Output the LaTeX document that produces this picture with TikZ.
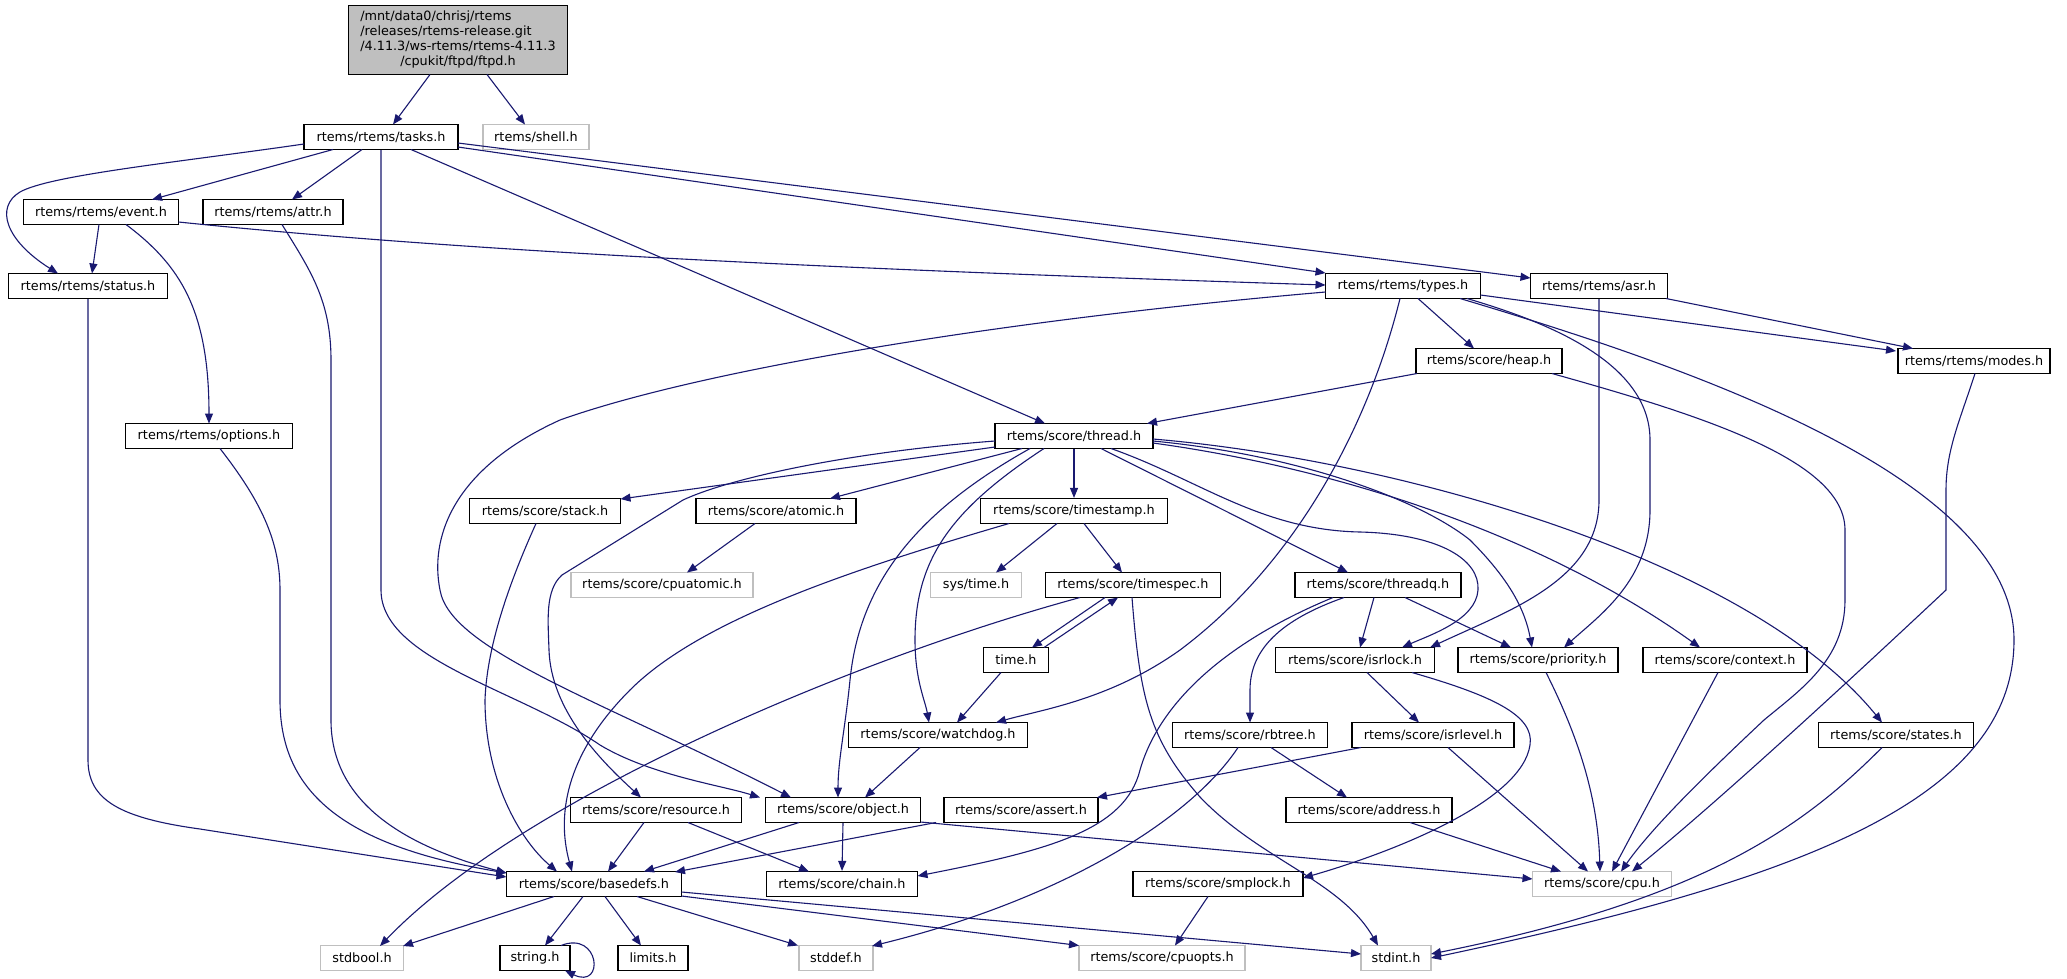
\documentclass[tikz,border=0pt]{standalone}
\usepackage{fontspec}
\setmainfont{DejaVu Sans}
\usetikzlibrary{arrows.meta}
\definecolor{edgeblue}{HTML}{191970}
\definecolor{gray75}{HTML}{BFBFBF}
\tikzset{
  nbox/.style={draw=black, line width=1.2pt, fill=white, minimum height=25pt, inner xsep=2pt, inner ysep=0pt, font=\fontsize{12.8}{14.8}\selectfont, text=black},
  gbox/.style={nbox, draw=gray75},
  rootbox/.style={nbox, fill=gray75, minimum height=69pt},
  edge/.style={draw=edgeblue, line width=1.1pt, -{Triangle[length=10pt,width=8pt]}},
}
\begin{document}
\begin{tikzpicture}[x=1pt,y=-1pt]
\fill[white] (0,0) rectangle (2067,978);
\useasboundingbox (0,0) rectangle (2067,978);
% nodes
\node[rootbox, minimum width=219pt] (ftpd) at (458,40) {\begin{tabular}{@{}l@{}}/mnt/data0/chrisj/rtems\\/releases/rtems-release.git\\/4.11.3/ws-rtems/rtems-4.11.3\\\multicolumn{1}{@{}c@{}}{/cpukit/ftpd/ftpd.h}\end{tabular}};
\node[nbox, minimum width=154pt] (tasks) at (381,137) {rtems/rtems/tasks.h};
\node[gbox, minimum width=106pt] (shell) at (536,137) {rtems/shell.h};
\node[nbox, minimum width=155pt] (event) at (101,212) {rtems/rtems/event.h};
\node[nbox, minimum width=140pt] (attr) at (273,212) {rtems/rtems/attr.h};
\node[nbox, minimum width=159pt] (status) at (88,286) {rtems/rtems/status.h};
\node[nbox, minimum width=155pt] (types) at (1403,286) {rtems/rtems/types.h};
\node[nbox, minimum width=137pt] (asr) at (1599,286) {rtems/rtems/asr.h};
\node[nbox, minimum width=146pt] (heap) at (1489,361) {rtems/score/heap.h};
\node[nbox, minimum width=152pt] (modes) at (1974,361) {rtems/rtems/modes.h};
\node[nbox, minimum width=167pt] (options) at (209,436) {rtems/rtems/options.h};
\node[nbox, minimum width=158pt] (thread) at (1074,436) {rtems/score/thread.h};
\node[nbox, minimum width=151pt] (stack) at (545,511) {rtems/score/stack.h};
\node[nbox, minimum width=160pt] (atomic) at (776,511) {rtems/score/atomic.h};
\node[nbox, minimum width=187pt] (timestamp) at (1074,511) {rtems/score/timestamp.h};
\node[gbox, minimum width=182pt] (cpuatomic) at (662,585) {rtems/score/cpuatomic.h};
\node[gbox, minimum width=91pt] (systime) at (976,585) {sys/time.h};
\node[nbox, minimum width=175pt] (timespec) at (1133,585) {rtems/score/timespec.h};
\node[nbox, minimum width=166pt] (threadq) at (1378,585) {rtems/score/threadq.h};
\node[nbox, minimum width=65pt] (time) at (1016,660) {time.h};
\node[nbox, minimum width=159pt] (isrlock) at (1355,660) {rtems/score/isrlock.h};
\node[nbox, minimum width=160pt] (priority) at (1538,660) {rtems/score/priority.h};
\node[nbox, minimum width=164pt] (context) at (1725,660) {rtems/score/context.h};
\node[nbox, minimum width=179pt] (watchdog) at (938,735) {rtems/score/watchdog.h};
\node[nbox, minimum width=155pt] (rbtree) at (1250,735) {rtems/score/rbtree.h};
\node[nbox, minimum width=162pt] (isrlevel) at (1433,735) {rtems/score/isrlevel.h};
\node[nbox, minimum width=155pt] (states) at (1896,735) {rtems/score/states.h};
\node[nbox, minimum width=171pt] (resource) at (656,810) {rtems/score/resource.h};
\node[nbox, minimum width=155pt] (object) at (843,810) {rtems/score/object.h};
\node[nbox, minimum width=154pt] (assert) at (1021,810) {rtems/score/assert.h};
\node[nbox, minimum width=166pt] (address) at (1369,810) {rtems/score/address.h};
\node[nbox, minimum width=175pt] (basedefs) at (594,884) {rtems/score/basedefs.h};
\node[nbox, minimum width=151pt] (chain) at (842,884) {rtems/score/chain.h};
\node[nbox, minimum width=170pt] (smplock) at (1218,884) {rtems/score/smplock.h};
\node[gbox, minimum width=139pt] (cpu) at (1602,884) {rtems/score/cpu.h};
\node[gbox, minimum width=83pt] (stdbool) at (362,958) {stdbool.h};
\node[nbox, minimum width=70pt] (string) at (535,958) {string.h};
\node[nbox, minimum width=70pt] (limits) at (653,958) {limits.h};
\node[gbox, minimum width=74pt] (stddef) at (836,958) {stddef.h};
\node[gbox, minimum width=166pt] (cpuopts) at (1162,958) {rtems/score/cpuopts.h};
\node[gbox, minimum width=70pt] (stdint) at (1396,958) {stdint.h};
% edges
\draw[edge] ([shift={(-28,34.5)}]ftpd.center) -- ([shift={(12,-12.5)}]tasks.center);
\draw[edge] ([shift={(29,34.5)}]ftpd.center) -- ([shift={(-11,-12.5)}]shell.center);
\draw[edge] ([shift={(-77,7)}]tasks.center) .. controls (180,162) and (50,175) .. (20,192) .. controls (-5,207) and (5,240) .. ([shift={(-30,-12.5)}]status.center);
\draw[edge] ([shift={(-48,12.5)}]tasks.center) -- ([shift={(51,-12.5)}]event.center);
\draw[edge] ([shift={(-19,12.5)}]tasks.center) -- ([shift={(19,-12.5)}]attr.center);
\draw[edge] (tasks.south) -- (381,590) .. controls (381,660) and (520,690) .. (600,745) .. controls (650,775) and (720,785) .. ([shift={(-83,-12.5)}]object.center);
\draw[edge] ([shift={(30,12.5)}]tasks.center) -- ([shift={(-29,-12.5)}]thread.center);
\draw[edge] ([shift={(77,10)}]tasks.center) -- ([shift={(-77.5,-13)}]types.center);
\draw[edge] ([shift={(77,6)}]tasks.center) -- ([shift={(-68.5,-8)}]asr.center);
\draw[edge] ([shift={(77.5,10)}]event.center) .. controls (450,250) and (800,268) .. ([shift={(-77.5,-1)}]types.center);
\draw[edge] ([shift={(-2,12.5)}]event.center) -- ([shift={(4,-12.5)}]status.center);
\draw[edge] ([shift={(25,12.5)}]event.center) .. controls (180,265) and (209,310) .. ([shift={(0,-12.5)}]options.center);
\draw[edge] ([shift={(9,12.5)}]attr.center) .. controls (310,270) and (331,300) .. (331,360) -- (331,720) .. controls (331,800) and (400,845) .. ([shift={(-87.5,-11)}]basedefs.center);
\draw[edge] (status.south) -- (88,760) .. controls (88,800) and (120,818) .. (200,829) -- ([shift={(-87.5,-7)}]basedefs.center);
\draw[edge] ([shift={(11,12.5)}]options.center) .. controls (260,500) and (280,540) .. (280,590) -- (280,700) .. controls (280,790) and (340,845) .. ([shift={(-87.5,-11)}]basedefs.center);
\draw[edge] ([shift={(-9,12.5)}]stack.center) .. controls (515,570) and (487,640) .. (485,700) .. controls (485,780) and (520,840) .. ([shift={(-37,-12.5)}]basedefs.center);
\draw[edge] ([shift={(-65,12.5)}]timestamp.center) .. controls (850,570) and (700,620) .. (630,690) .. controls (570,750) and (555,810) .. ([shift={(-22,-12.5)}]basedefs.center);
\draw[edge] ([shift={(-12,12.5)}]resource.center) -- ([shift={(14,-12.5)}]basedefs.center);
\draw[edge] ([shift={(-44,12.5)}]object.center) -- ([shift={(50,-12.5)}]basedefs.center);
\draw[edge] ([shift={(-85,12.5)}]assert.center) -- ([shift={(81,-12)}]basedefs.center);
\draw[edge] ([shift={(-40,12.5)}]basedefs.center) -- ([shift={(41,-12)}]stdbool.center);
\draw[edge] ([shift={(-11,12.5)}]basedefs.center) -- ([shift={(10,-12.5)}]string.center);
\draw[edge] ([shift={(11,12.5)}]basedefs.center) -- ([shift={(-12,-12.5)}]limits.center);
\draw[edge] ([shift={(43,12.5)}]basedefs.center) -- ([shift={(-38,-12.5)}]stddef.center);
\draw[edge] ([shift={(87.5,8)}]basedefs.center) -- ([shift={(-35,-4)}]stdint.center);
\draw[edge] ([shift={(87.5,12)}]basedefs.center) -- ([shift={(-83,-12.5)}]cpuopts.center);
\draw[edge] ([shift={(26,-12.5)}]string.center) .. controls (600,930) and (605,990) .. ([shift={(30,12.5)}]string.center);
\draw[edge] ([shift={(15,12.5)}]types.center) -- ([shift={(-15,-12.5)}]heap.center);
\draw[edge] ([shift={(77.5,9)}]types.center) -- ([shift={(-78,-10)}]modes.center);
\draw[edge] ([shift={(67,12.5)}]asr.center) -- ([shift={(-61,-12.5)}]modes.center);
\draw[edge] (asr.south) -- (1599,500) .. controls (1599,580) and (1510,610) .. ([shift={(75,-12.5)}]isrlock.center);
\draw[edge] ([shift={(64,12.5)}]types.center) .. controls (1540,320) and (1650,360) .. (1650,440) -- (1650,510) .. controls (1650,580) and (1600,615) .. ([shift={(26,-12.5)}]priority.center);
\draw[edge] ([shift={(57,12.5)}]types.center) .. controls (1700,370) and (2014,480) .. (2014,640) .. controls (2014,800) and (1800,880) .. ([shift={(35,0)}]stdint.center);
\draw[edge] ([shift={(-72,12.5)}]heap.center) -- ([shift={(73,-12.5)}]thread.center);
\draw[edge] ([shift={(63,12.5)}]heap.center) .. controls (1700,415) and (1845,460) .. (1845,530) -- (1845,600) .. controls (1845,660) and (1800,690) .. (1764,720) .. controls (1700,780) and (1650,830) .. ([shift={(19,-12.5)}]cpu.center);
\draw[edge] ([shift={(1,12.5)}]modes.center) .. controls (1960,420) and (1946,450) .. (1946,490) -- (1946,590) .. controls (1850,680) and (1720,800) .. ([shift={(30,-12.5)}]cpu.center);
\draw[edge] ([shift={(8,12.5)}]priority.center) .. controls (1580,740) and (1598,800) .. ([shift={(-2,-12.5)}]cpu.center);
\draw[edge] ([shift={(-7,12.5)}]context.center) -- ([shift={(10,-12.5)}]cpu.center);
\draw[edge] ([shift={(41,12.5)}]address.center) -- ([shift={(-41,-12.5)}]cpu.center);
\draw[edge] ([shift={(15,12.5)}]isrlevel.center) -- ([shift={(-14,-12.5)}]cpu.center);
\draw[edge] ([shift={(77.5,12)}]object.center) -- ([shift={(-69.5,-5)}]cpu.center);
\draw[edge] ([shift={(-79,11)}]thread.center) -- ([shift={(75.5,-12)}]stack.center);
\draw[edge] ([shift={(-52,12.5)}]thread.center) -- ([shift={(54,-12.5)}]atomic.center);
\draw[edge] ([shift={(-79,5)}]thread.center) .. controls (850,452) and (730,478) .. (683,500) -- (562,575) .. controls (545,590) and (548,620) .. (549,650) .. controls (551,710) and (600,760) .. ([shift={(-15,-12.5)}]resource.center);
\draw[edge] ([shift={(-44,12.5)}]thread.center) .. controls (920,510) and (860,580) .. (850,680) .. controls (845,730) and (838,760) .. ([shift={(-5,-12.5)}]object.center);
\draw[edge] ([shift={(-30,12.5)}]thread.center) .. controls (950,510) and (915,560) .. (915,640) .. controls (915,680) and (925,700) .. ([shift={(-9,-12.5)}]watchdog.center);
\draw[edge] (thread.south) -- (timestamp.north);
\draw[edge] ([shift={(27,12.5)}]thread.center) -- ([shift={(-30,-12.5)}]threadq.center);
\draw[edge] ([shift={(37,12.5)}]thread.center) .. controls (1200,480) and (1260,530) .. (1360,532) .. controls (1440,534) and (1480,560) .. (1478,590) .. controls (1476,620) and (1430,635) .. ([shift={(47,-12.5)}]isrlock.center);
\draw[edge] ([shift={(79,5)}]thread.center) .. controls (1300,455) and (1420,500) .. (1470,540) .. controls (1510,580) and (1525,610) .. ([shift={(-6,-12.5)}]priority.center);
\draw[edge] ([shift={(79,7)}]thread.center) .. controls (1350,470) and (1550,540) .. ([shift={(-25,-12.5)}]context.center);
\draw[edge] ([shift={(79,3)}]thread.center) .. controls (1400,460) and (1750,560) .. ([shift={(-14,-12.5)}]states.center);
\draw[edge] ([shift={(-77.5,6)}]types.center) .. controls (1000,320) and (700,370) .. (560,420) .. controls (450,470) and (430,540) .. (440,590) .. controls (450,650) and (600,700) .. ([shift={(-52,-12.5)}]object.center);
\draw[edge] ([shift={(-3,12.5)}]types.center) .. controls (1370,420) and (1300,560) .. (1180,650) .. controls (1110,700) and (1040,710) .. ([shift={(58,-12.5)}]watchdog.center);
\draw[edge] ([shift={(-15,12.5)}]time.center) -- ([shift={(19,-12.5)}]watchdog.center);
\draw[edge] ([shift={(-18,12.5)}]watchdog.center) -- ([shift={(22,-12.5)}]object.center);
\draw[edge] (object.south) -- (chain.north);
\draw[edge] ([shift={(32,12.5)}]resource.center) -- ([shift={(-33,-12.5)}]chain.center);
\draw[edge] ([shift={(-45,12.5)}]threadq.center) .. controls (1230,640) and (1160,700) .. (1140,770) .. controls (1125,830) and (1050,850) .. ([shift={(75.5,-8)}]chain.center);
\draw[edge] ([shift={(-34,12.5)}]threadq.center) .. controls (1280,620) and (1250,650) .. (1250,690) -- ([shift={(0,-12.5)}]rbtree.center);
\draw[edge] ([shift={(-4,12.5)}]threadq.center) -- ([shift={(5,-12.5)}]isrlock.center);
\draw[edge] ([shift={(27,12.5)}]threadq.center) -- ([shift={(-27,-12.5)}]priority.center);
\draw[edge] ([shift={(-17,12.5)}]timestamp.center) -- ([shift={(20,-12.5)}]systime.center);
\draw[edge] ([shift={(10,12.5)}]timestamp.center) -- ([shift={(-11,-12.5)}]timespec.center);
\draw[edge] ([shift={(-28,12.5)}]timespec.center) -- ([shift={(16,-12.5)}]time.center);
\draw[edge] ([shift={(28,-12.5)}]time.center) -- ([shift={(-15,12.5)}]timespec.center);
\draw[edge] ([shift={(-53,12.5)}]timespec.center) .. controls (850,660) and (520,800) .. ([shift={(18,-12)}]stdbool.center);
\draw[edge] ([shift={(-1,12.5)}]timespec.center) .. controls (1140,700) and (1150,740) .. (1200,797) .. controls (1260,860) and (1340,880) .. ([shift={(-18,-12.5)}]stdint.center);
\draw[edge] ([shift={(12,12.5)}]isrlock.center) -- ([shift={(-14,-12.5)}]isrlevel.center);
\draw[edge] ([shift={(57,12.5)}]isrlock.center) .. controls (1490,695) and (1535,715) .. (1530,745) .. controls (1522,800) and (1400,850) .. ([shift={(85,-6)}]smplock.center);
\draw[edge] ([shift={(-72,12.5)}]isrlevel.center) -- ([shift={(76,-12.5)}]assert.center);
\draw[edge] ([shift={(21,12.5)}]rbtree.center) -- ([shift={(-22,-12.5)}]address.center);
\draw[edge] ([shift={(-12,12.5)}]rbtree.center) .. controls (1190,820) and (1060,900) .. ([shift={(36,-12)}]stddef.center);
\draw[edge] ([shift={(-10,12.5)}]smplock.center) -- ([shift={(13,-12.5)}]cpuopts.center);
\draw[edge] ([shift={(-14,12.5)}]states.center) .. controls (1800,830) and (1700,900) .. ([shift={(35,-4)}]stdint.center);
\draw[edge] ([shift={(-21,12.5)}]atomic.center) -- ([shift={(25,-12.5)}]cpuatomic.center);
\end{tikzpicture}
\end{document}
